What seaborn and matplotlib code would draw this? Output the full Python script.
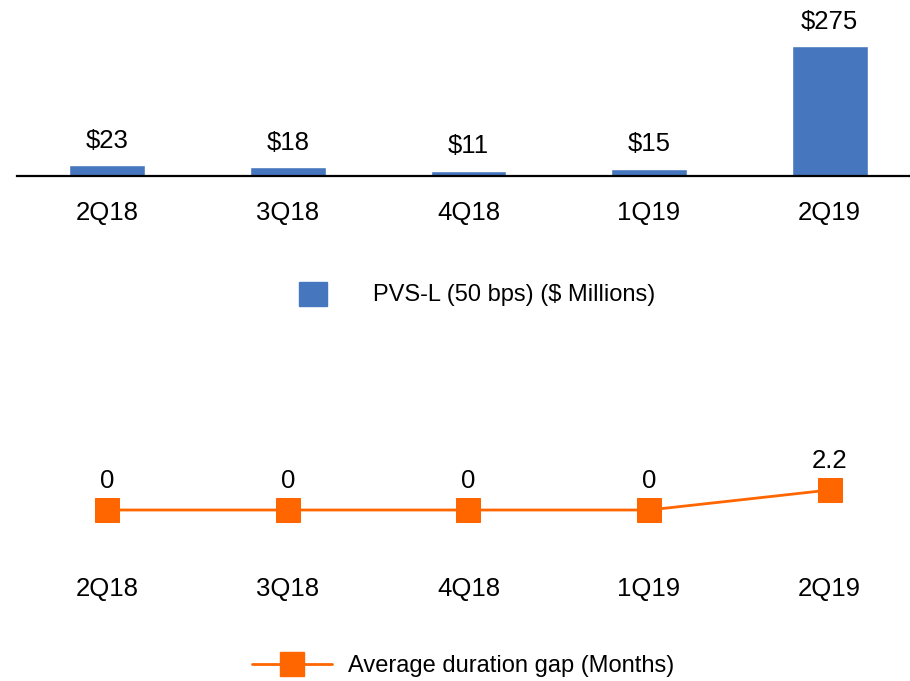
import matplotlib
matplotlib.use("Agg")
import matplotlib.pyplot as plt
import seaborn as sns
import pandas as pd
from matplotlib.lines import Line2D
from matplotlib.patches import Patch

quarters = ["2Q18", "3Q18", "4Q18", "1Q19", "2Q19"]
pvs_values = [23, 18, 11, 15, 275]
gap_values = [0, 0, 0, 0, 2.2]
gap_labels = ["0", "0", "0", "0", "2.2"]

blue = "#4677BE"
orange = "#FF6600"

sns.set_theme(style="white", rc={"text.color": "black", "xtick.color": "black",
                                  "axes.labelcolor": "black"})
plt.rcParams["font.family"] = ["Liberation Sans", "DejaVu Sans"]
fs = 18.5      # tick and value labels
fs_leg = 17    # legends

W, H = 910, 681
fig = plt.figure(figsize=(W / 100, H / 100), dpi=100)

def frac(x0, y0, x1, y1):
    # pixel box (top-left origin) -> figure axes rect
    return [x0 / W, 1 - y1 / H, (x1 - x0) / W, (y1 - y0) / H]

# top chart: bars
ax1 = fig.add_axes(frac(17, 30, 910, 176))
df1 = pd.DataFrame({"quarter": quarters, "value": pvs_values})
sns.barplot(data=df1, x="quarter", y="value", color=blue, width=0.42,
            saturation=1, ax=ax1)
ax1.set_xlim(-0.5, 4.445)
ax1.set_ylim(0, 309)
ax1.bar_label(ax1.containers[0], labels=[f"${v}" for v in pvs_values],
              padding=9, fontsize=fs)
for s in ["top", "left", "right"]:
    ax1.spines[s].set_visible(False)
ax1.spines["bottom"].set_color("black")
ax1.spines["bottom"].set_linewidth(1.6)
ax1.set_yticks([])
ax1.tick_params(axis="x", length=0, pad=18, labelsize=fs)
ax1.set_xlabel("")
ax1.set_ylabel("")

fig.legend(handles=[Patch(facecolor=blue, edgecolor=blue)],
           labels=["PVS-L (50 bps) ($ Millions)"],
           loc="center", bbox_to_anchor=(477 / W, 1 - 294 / H),
           frameon=False, fontsize=fs_leg, handlelength=1.19, handleheight=1.19,
           handletextpad=1.95, borderpad=0, borderaxespad=0)

# bottom chart: line
ax2 = fig.add_axes(frac(17, 420, 910, 560))
df2 = pd.DataFrame({"quarter": quarters, "gap": gap_values})
sns.lineplot(data=df2, x="quarter", y="gap", color=orange, marker="s",
             markersize=17, markeredgecolor=orange, linewidth=2, ax=ax2)
ax2.set_xlim(-0.5, 4.445)
ax2.set_ylim(-5.5, 9.9)
for i, (v, lab) in enumerate(zip(gap_values, gap_labels)):
    ax2.annotate(lab, (i, v), xytext=(0, 12), textcoords="offset points",
                 ha="center", va="bottom", fontsize=fs)
for s in ax2.spines.values():
    s.set_visible(False)
ax2.set_yticks([])
ax2.tick_params(axis="x", length=0, pad=12, labelsize=fs)
ax2.set_xlabel("")
ax2.set_ylabel("")

fig.legend(handles=[Line2D([0], [0], color=orange, lw=2, marker="s",
                           markersize=17, markeredgecolor=orange)],
           labels=["Average duration gap (Months)"],
           loc="center", bbox_to_anchor=(463 / W, 1 - 666 / H),
           frameon=False, fontsize=fs_leg, handlelength=3.4, handletextpad=0.65,
           borderpad=0, borderaxespad=0)

fig.savefig("out.png", dpi=100)
